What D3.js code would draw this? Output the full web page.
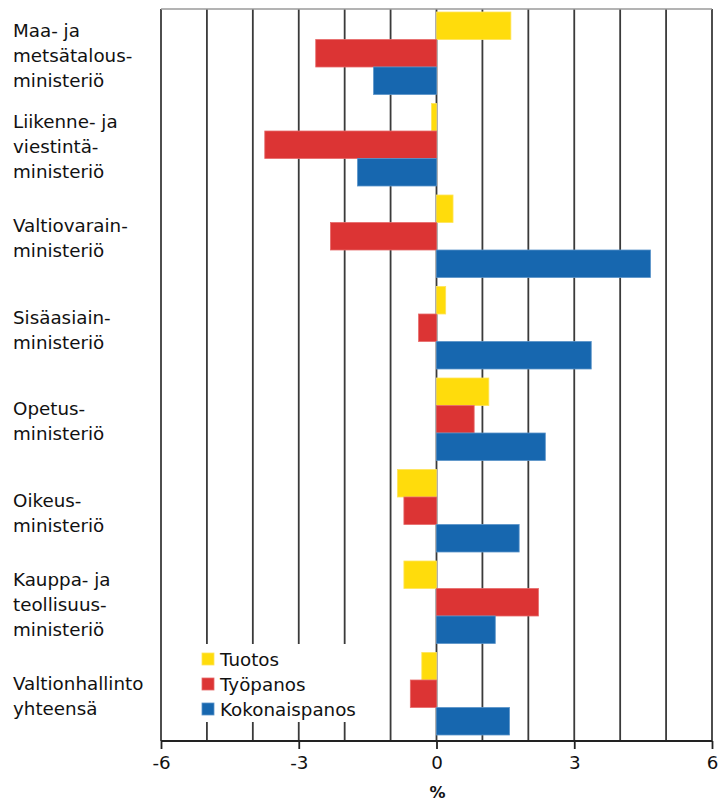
<!DOCTYPE html>
<html><head><meta charset="utf-8">
<script src="https://cdn.jsdelivr.net/npm/d3@7"></script>
<style>body{margin:0;background:#fff}svg{display:block}</style>
</head><body>
<script>
const categories = [
  ["Maa- ja","metsätalous-","ministeriö"],
  ["Liikenne- ja","viestintä-","ministeriö"],
  ["Valtiovarain-","ministeriö"],
  ["Sisäasiain-","ministeriö"],
  ["Opetus-","ministeriö"],
  ["Oikeus-","ministeriö"],
  ["Kauppa- ja","teollisuus-","ministeriö"],
  ["Valtionhallinto","yhteensä"]
];
const seriesNames = ["Tuotos","Työpanos","Kokonaispanos"];
const tuotos        = [1.62, -0.11, 0.36, 0.20, 1.14, -0.85, -0.71, -0.32];
const tyopanos      = [-2.63, -3.74, -2.31, -0.39, 0.82, -0.71, 2.22, -0.57];
const kokonaispanos = [-1.37, -1.72, 4.66, 3.37, 2.37, 1.80, 1.28, 1.59];
const xTicks = [-6, -3, 0, 3, 6];
const colors = ["#FFDC0C", "#DC3434", "#1767AF"];
const strokes = ["#ffe45a", "#e66a6a", "#5a93c9"];

const W = 718, H = 802;
const pL = 161, pR = 712, pT = 9, pB = 741;
const font = "'DejaVu Sans', Verdana, sans-serif";
const fs = 18.3;

const svg = d3.select("body").append("svg").attr("width", W).attr("height", H);
const x = d3.scaleLinear().domain([-6, 6]).range([pL, pR]);
const y = d3.scaleBand().domain(d3.range(categories.length)).range([pT, pB]);
const ys = d3.scaleBand().domain(seriesNames).range([3, y.bandwidth() - 6]);

// gridlines
svg.append("g").selectAll("line").data(d3.range(-6, 7)).join("line")
  .attr("x1", d => x(d)).attr("x2", d => x(d))
  .attr("y1", pT).attr("y2", pB)
  .attr("stroke", "#3a3a3a").attr("stroke-width", 1.8);
svg.append("line").attr("x1", pL).attr("x2", pR).attr("y1", pT).attr("y2", pT)
  .attr("stroke", "#9a9a9a").attr("stroke-width", 1.5);

// bars
const data = [tuotos, tyopanos, kokonaispanos];
data.forEach((vals, si) => {
  svg.append("g").selectAll("rect").data(vals).join("rect")
    .attr("x", d => x(Math.min(0, d)))
    .attr("width", d => Math.abs(x(d) - x(0)))
    .attr("y", (d, i) => y(i) + ys(seriesNames[si]))
    .attr("height", ys.bandwidth())
    .attr("fill", colors[si])
    .attr("stroke", strokes[si]).attr("stroke-width", 0.8);
});

// category labels
const lh = 25;
categories.forEach((lines, i) => {
  const cy = y(i) + y.bandwidth() / 2;
  const t = svg.append("text").attr("font-family", font).attr("font-size", fs)
    .attr("fill", "#111");
  lines.forEach((ln, j) => {
    t.append("tspan").attr("x", 13)
      .attr("y", cy + (j - (lines.length - 1) / 2) * lh + 7)
      .text(ln);
  });
});

// x axis
const axis = svg.append("g").attr("transform", `translate(0,${pB})`)
  .call(d3.axisBottom(x).tickValues(xTicks).tickSize(8).tickPadding(7).tickFormat(d3.format("d")));
axis.select(".domain").attr("stroke", "#222").attr("stroke-width", 1.8).attr("d", `M${pL},0H${pR}`);
axis.selectAll(".tick line").attr("stroke", "#222").attr("stroke-width", 1.8);
axis.selectAll(".tick text").attr("font-family", font).attr("font-size", fs).attr("fill", "#111")
  .text(d => d < 0 ? "-" + Math.abs(d) : d);
svg.append("text").attr("x", x(0) + 1).attr("y", 798).attr("text-anchor", "middle")
  .attr("font-family", font).attr("font-size", 16).attr("font-weight", "bold").attr("fill", "#111").text("%");

// legend
const lg = svg.append("g");
lg.append("rect").attr("x", 192).attr("y", 644).attr("width", 176).attr("height", 78).attr("fill", "#fff");
seriesNames.forEach((s, i) => {
  const yy = 653 + i * 25;
  lg.append("rect").attr("x", 202).attr("y", yy).attr("width", 12).attr("height", 12)
    .attr("fill", colors[i]).attr("stroke", strokes[i]).attr("stroke-width", 0.8);
  lg.append("text").attr("x", 220).attr("y", yy + 12.5).attr("font-family", font)
    .attr("font-size", fs).attr("fill", "#111").text(s);
});
</script>
</body></html>
